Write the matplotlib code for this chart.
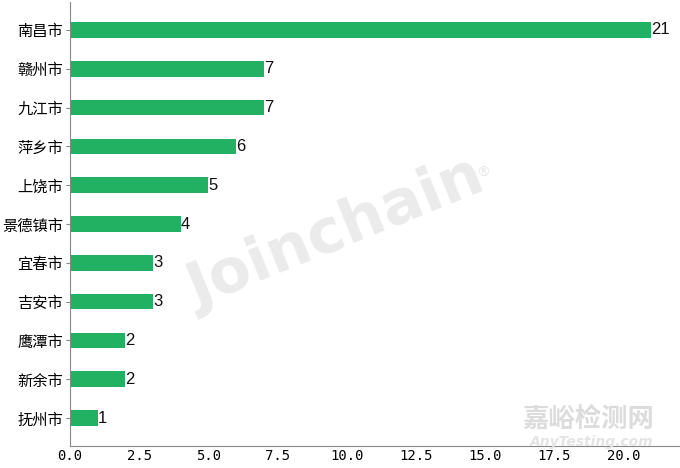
import matplotlib
matplotlib.use("Agg")
import matplotlib.pyplot as plt

cities = ["南昌市", "赣州市", "九江市", "萍乡市", "上饶市", "景德镇市", "宜春市", "吉安市", "鹰潭市", "新余市", "抚州市"]
counts = [21, 7, 7, 6, 5, 4, 3, 3, 2, 2, 1]

plt.rcParams['font.family'] = ['Noto Sans CJK SC', 'DejaVu Sans']

fig = plt.figure(figsize=(6.8, 4.68), dpi=100)
ax = fig.add_axes([70/680, 22/468, 1 - 70/680, 1 - 22/468 - 2/468])

cats_r = cities[::-1]
vals_r = counts[::-1]
bars = ax.barh(cats_r, vals_r, height=0.4, color="#22b163")
for b, v in zip(bars, vals_r):
    ax.text(b.get_width(), b.get_y() + b.get_height()/2, str(v), va="center", ha="left",
            fontsize=12, family=["Liberation Sans", "DejaVu Sans"], color="#111111")

for s in ["top", "right"]:
    ax.spines[s].set_visible(False)
for s in ["left", "bottom"]:
    ax.spines[s].set_color("#888888")
ax.tick_params(axis="y", labelsize=11, length=3, color="#888888", pad=2)
ax.tick_params(axis="x", labelsize=10, length=0, pad=2)
ax.set_xticks([0, 2.5, 5, 7.5, 10, 12.5, 15, 17.5, 20])
ax.set_xticklabels(["0.0", "2.5", "5.0", "7.5", "10.0", "12.5", "15.0", "17.5", "20.0"],
                   family=["DejaVu Sans Mono", "DejaVu Sans"])

# watermarks
fig.text(0.495, 0.5, "Joinchain", fontsize=44, fontweight="bold", color="#ebebeb",
         rotation=22, ha="center", va="center", family=["DejaVu Sans"], zorder=0)
fig.text(0.71, 0.63, "®", fontsize=10, color="#e6e6e6", ha="center", va="center", family=["DejaVu Sans"])
fig.text(0.865, 0.104, "嘉峪检测网", fontsize=19, color="#dcdcdc", ha="center", va="center", fontweight="bold")
fig.text(0.87, 0.056, "AnyTesting.com", fontsize=10, color="#e4e4e4", ha="center", va="center", style="italic", fontweight="bold",
         family=["DejaVu Sans"])

fig.savefig("out.png", dpi=100)
